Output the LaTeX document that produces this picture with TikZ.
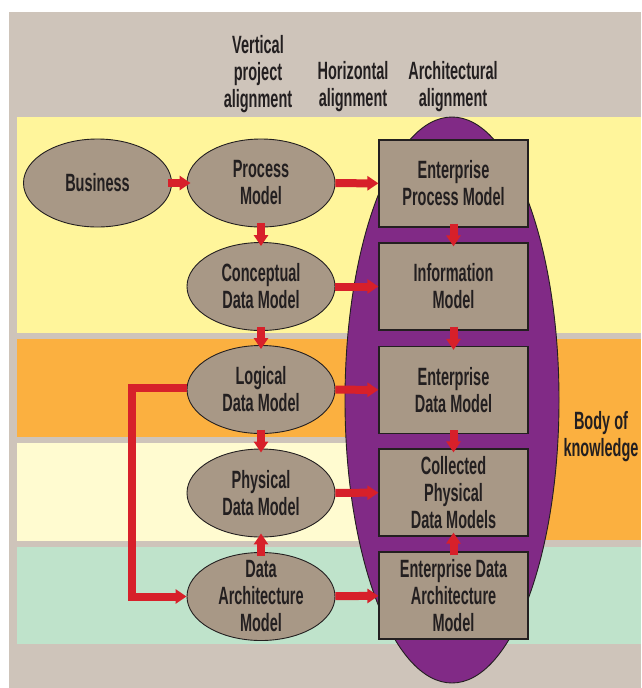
\documentclass[tikz,border=0pt]{standalone}
\usepackage{fontspec}
\newfontfamily\condfont[FakeStretch=0.58]{Liberation Sans}
\usetikzlibrary{shapes.geometric,arrows.meta}

\definecolor{paper}{HTML}{CEC4BA}
\definecolor{bandyellow}{HTML}{FFF59B}
\definecolor{bandorange}{HTML}{FBB040}
\definecolor{bandcream}{HTML}{FFFBD0}
\definecolor{bandmint}{HTML}{BFE3CB}
\definecolor{plum}{HTML}{812A86}
\definecolor{taupe}{HTML}{A89886}
\definecolor{arrowred}{HTML}{D7202A}
\definecolor{ink}{HTML}{231F20}

\begin{document}
\begin{tikzpicture}[x=1pt, y=-1pt,
    every node/.style={font=\condfont\bfseries\fontsize{25}{27}\selectfont, text=ink},
    blob/.style={ellipse, draw=ink, line width=0.9pt, fill=taupe, minimum width=148pt, minimum height=88pt, inner sep=-14pt, align=center},
    card/.style={rectangle, draw=ink, line width=1.2pt, fill=taupe, minimum width=149pt, minimum height=87pt, inner sep=1pt, align=center},
    head/.style={align=center},
    flow/.style={draw=arrowred, line width=8pt, -{Triangle[width=14pt,length=11pt]}},
    overlap/.style={shorten <=-4pt, shorten >=-4pt}]
        \useasboundingbox (0,0) rectangle (641,688);
        \fill[white] (0,0) rectangle (641,688);
        \fill[paper] (9,12) rectangle (641,688);

        % bands
        \fill[bandyellow] (17,117) rectangle (641,333);
        \fill[bandorange] (17,339) rectangle (641,437);
        \fill[bandorange] (453,339) rectangle (641,540);
        \fill[bandcream] (17,443) rectangle (453,541);
        \fill[bandmint] (17,547) rectangle (641,644);

        % body of knowledge
        \draw[draw=ink, fill=plum, line width=0.9pt] (452,400) ellipse [x radius=107, y radius=283];

        \node[head] (vhead) at (258,74) {Vertical\\project\\alignment};
        \node[head] (hhead) at (353,87) {Horizontal\\alignment};
        \node[head] (ahead) at (453,87) {Architectural\\alignment};
        \node[head] (bok) at (601,437) {Body of\\knowledge};

        \node[blob] (bus) at (97.5,183) {Business};
        \node[blob] (proc) at (261,183) {Process\\Model};
        \node[blob] (concept) at (261,286.5) {Conceptual\\Data Model};
        \node[blob] (logical) at (261,389.5) {Logical\\Data Model};
        \node[blob] (physical) at (261,493) {Physical\\Data Model};
        \node[blob] (dataarch) at (261,596.5) {Data\\Architecture\\Model};

        \node[card] (epm) at (453.5,183.5) {Enterprise\\Process Model};
        \node[card] (info) at (453.5,286.5) {Information\\Model};
        \node[card] (edm) at (453.5,390) {Enterprise\\Data Model};
        \node[card] (cpdm) at (453.5,492.5) {Collected\\Physical\\Data Models};
        \node[card] (edam) at (453.5,595.5) {Enterprise Data\\Architecture\\Model};

        \coordinate (bend) at (132,388);

        \draw[flow, overlap] (bus) -- (proc);
        \draw[flow, overlap] (proc) -- (concept);
        \draw[flow, overlap] (concept) -- (logical);
        \draw[flow, overlap] (logical) -- (physical);
        \draw[flow, overlap] (dataarch) -- (physical);
        \draw[flow] (logical.west |- bend) -- (bend) |- (dataarch.west);

        \draw[flow] (proc) -- (epm);
        \draw[flow] (concept) -- (info);
        \draw[flow] (logical) -- (edm);
        \draw[flow] (physical) -- (cpdm);
        \draw[flow] (dataarch) -- (edam);

        \draw[flow, overlap] (epm) -- (info);
        \draw[flow, overlap] (info) -- (edm);
        \draw[flow, overlap] (edm) -- (cpdm);
        \draw[flow, overlap] (edam) -- (cpdm);
    \end{tikzpicture}
\end{document}
